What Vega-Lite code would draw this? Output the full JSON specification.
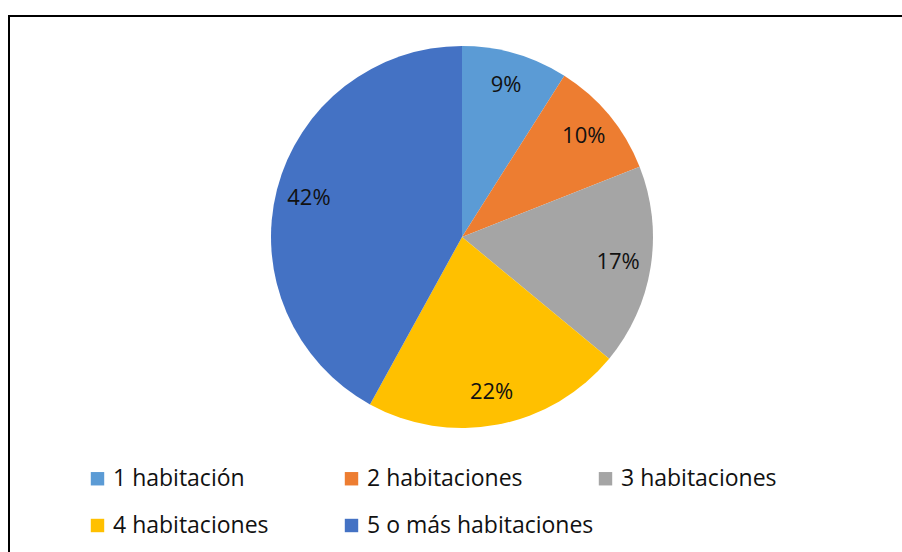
{
  "$schema": "https://vega.github.io/schema/vega-lite/v6.json",
  "width": 902,
  "height": 552,
  "autosize": {"type": "fit", "contains": "padding"},
  "padding": {"left": 9, "top": 16, "right": -10, "bottom": -10},
  "background": "white",
  "view": {"stroke": "#000000", "strokeWidth": 2, "fill": "white"},
  "config": {"view": {"stroke": "#000000", "strokeWidth": 2}},
  "data": {
    "values": [
      {"categoria": "1 habitación", "porcentaje": 0.09},
      {"categoria": "2 habitaciones", "porcentaje": 0.10},
      {"categoria": "3 habitaciones", "porcentaje": 0.17},
      {"categoria": "4 habitaciones", "porcentaje": 0.22},
      {"categoria": "5 o más habitaciones", "porcentaje": 0.42}
    ]
  },
  "encoding": {
    "theta": {"field": "porcentaje", "type": "quantitative", "stack": true},
    "order": {"field": "categoria", "sort": "ascending"},
    "color": {
      "field": "categoria",
      "type": "nominal",
      "scale": {
        "domain": ["1 habitación", "2 habitaciones", "3 habitaciones", "4 habitaciones", "5 o más habitaciones"],
        "range": ["#5B9BD5", "#ED7D31", "#A5A5A5", "#FFC000", "#4472C4"]
      },
      "legend": {
        "orient": "none",
        "legendX": 77,
        "legendY": 451,
        "direction": "horizontal",
        "columns": 3,
        "gridAlign": "all",
        "title": null,
        "padding": 0,
        "symbolType": "square",
        "symbolSize": 180,
        "symbolStrokeWidth": 0,
        "symbolOpacity": 1,
        "labelFont": "Open Sans",
        "labelFontSize": 23,
        "labelColor": "#111111",
        "labelOffset": 4,
        "labelLimit": 400,
        "columnPadding": 0,
        "rowPadding": 23
      }
    }
  },
  "layer": [
    {"mark": {"type": "arc", "outerRadius": 191, "x": 453, "y": 221, "stroke": null}},
    {
      "mark": {"type": "text", "radius": 158, "x": 453, "y": 221, "font": "Open Sans", "fontSize": 22, "fill": "#111111"},
      "encoding": {
        "text": {"field": "porcentaje", "type": "quantitative", "format": ".0%"},
        "color": {"value": "#111111"}
      }
    }
  ]
}
